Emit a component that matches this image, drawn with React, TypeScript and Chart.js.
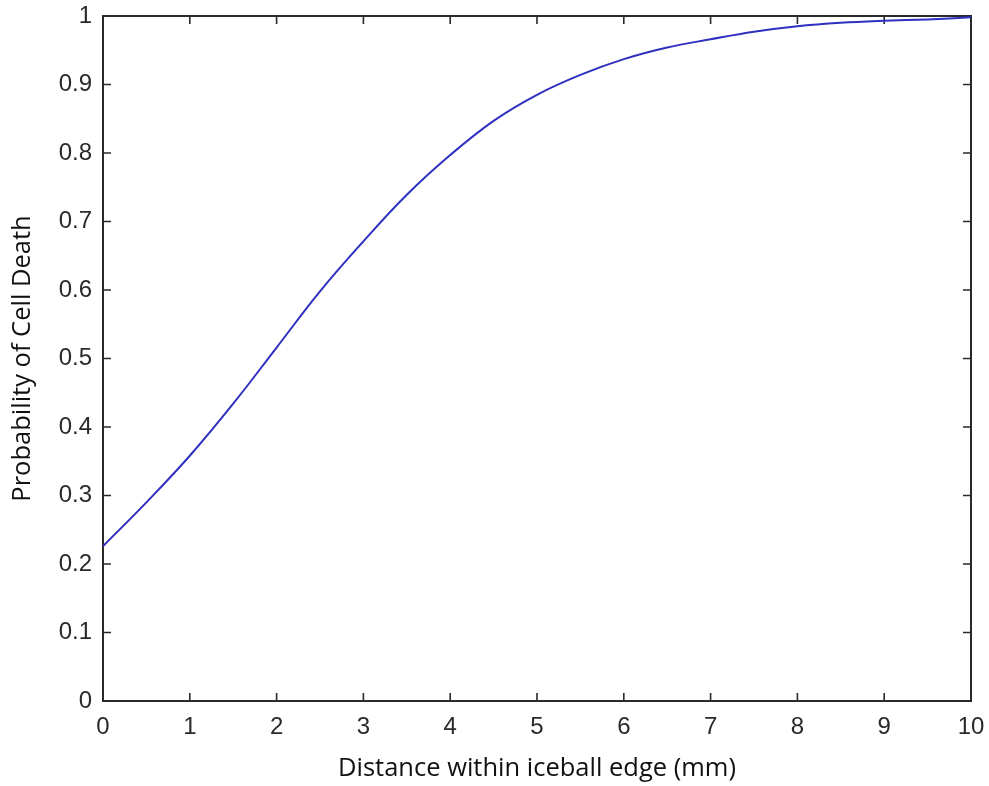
import React, { useEffect, useRef } from "react";
import { Chart, registerables } from "chart.js";

Chart.register(...registerables);

// Sampled curve: probability of cell death vs. distance inside the iceball edge
const distanceMm = [0, 0.5, 1, 1.5, 2, 2.5, 3, 3.5, 4, 4.5, 5, 5.5, 6, 6.5, 7, 7.5, 8, 8.5, 9, 9.5, 10];
const cellDeathProbability = [
  0.226, 0.29, 0.358, 0.434, 0.516, 0.598, 0.671, 0.739, 0.797, 0.847, 0.885,
  0.914, 0.937, 0.954, 0.966, 0.977, 0.985, 0.99, 0.993, 0.995, 0.998,
];

const xTickLabels = ["0", "1", "2", "3", "4", "5", "6", "7", "8", "9", "10"];
const yTickLabels = ["0", "0.1", "0.2", "0.3", "0.4", "0.5", "0.6", "0.7", "0.8", "0.9", "1"];

const xAxisTitle = "Distance within iceball edge (mm)";
const yAxisTitle = "Probability of Cell Death";

const CANVAS_W = 989;
const CANVAS_H = 786;

// Box around the plot with inward tick marks on all four sides
const boxedAxesPlugin = {
  id: "boxedAxes",
  beforeDatasetsDraw(chart: any) {
    const { ctx, chartArea, scales } = chart;
    const { left, right, top, bottom } = chartArea;
    const tickLen = 8;
    ctx.save();
    ctx.strokeStyle = "#2a2a2a";
    ctx.lineWidth = 2;
    ctx.strokeRect(left, top, right - left, bottom - top);

    ctx.lineWidth = 1.6;
    ctx.beginPath();
    const xs = scales.x;
    xs.ticks.forEach((_t: any, i: number) => {
      const px = xs.getPixelForTick(i);
      if (px <= left + 1 || px >= right - 1) return;
      ctx.moveTo(px, bottom);
      ctx.lineTo(px, bottom - tickLen);
      ctx.moveTo(px, top);
      ctx.lineTo(px, top + tickLen);
    });
    const ys = scales.y;
    ys.ticks.forEach((_t: any, i: number) => {
      const py = ys.getPixelForTick(i);
      if (py <= top + 1 || py >= bottom - 1) return;
      ctx.moveTo(left, py);
      ctx.lineTo(left + tickLen, py);
      ctx.moveTo(right, py);
      ctx.lineTo(right - tickLen, py);
    });
    ctx.stroke();
    ctx.restore();
  },
};

export default function App() {
  const canvasRef = useRef<HTMLCanvasElement | null>(null);

  useEffect(() => {
    const canvas = canvasRef.current;
    if (!canvas) return;

    const tickFont = { family: "'Liberation Sans', Arial, sans-serif", size: 24 };
    const titleFont = { family: "'Open Sans', sans-serif", size: 25.5 };

    const chart = new Chart(canvas, {
      type: "line",
      data: {
        datasets: [
          {
            data: distanceMm.map((d, i) => ({ x: d, y: cellDeathProbability[i] })),
            borderColor: "rgb(48, 48, 192)",
            borderWidth: 2,
            pointRadius: 0,
            fill: false,
            tension: 0.4,
          },
        ],
      },
      options: {
        responsive: false,
        animation: false,
        events: [],
        layout: { padding: { left: 0, top: 16, right: 18, bottom: 0 } },
        plugins: {
          legend: { display: false },
          tooltip: { enabled: false },
        },
        scales: {
          x: {
            type: "linear",
            min: 0,
            max: 10,
            grid: { display: false, drawTicks: false },
            border: { display: false },
            ticks: {
              stepSize: 1,
              autoSkip: false,
              maxRotation: 0,
              padding: 12,
              color: "#2a2a2a",
              font: tickFont,
              callback: (_v: any, i: number) => xTickLabels[i],
            },
            title: {
              display: true,
              text: xAxisTitle,
              color: "#111111",
              font: titleFont,
              padding: { top: 0, bottom: 2 },
            },
            afterFit: (scale: any) => {
              scale.height = 85;
              scale.paddingLeft = 0;
              scale.paddingRight = 0;
            },
          },
          y: {
            type: "linear",
            min: 0,
            max: 1,
            grid: { display: false, drawTicks: false },
            border: { display: false },
            ticks: {
              stepSize: 0.1,
              autoSkip: false,
              padding: 11,
              color: "#2a2a2a",
              font: tickFont,
              callback: (_v: any, i: number) => yTickLabels[i],
            },
            title: {
              display: true,
              text: yAxisTitle,
              color: "#111111",
              font: titleFont,
              padding: { top: 7, bottom: 0 },
            },
            afterFit: (scale: any) => {
              scale.width = 103;
              scale.paddingTop = 0;
              scale.paddingBottom = 0;
            },
          },
        },
      },
      plugins: [boxedAxesPlugin],
    });

    return () => chart.destroy();
  }, []);

  return (
    <div style={{ position: "absolute", left: 0, top: 0, width: CANVAS_W, height: CANVAS_H, background: "#ffffff" }}>
      <canvas ref={canvasRef} width={CANVAS_W} height={CANVAS_H} style={{ display: "block" }} />
    </div>
  );
}
